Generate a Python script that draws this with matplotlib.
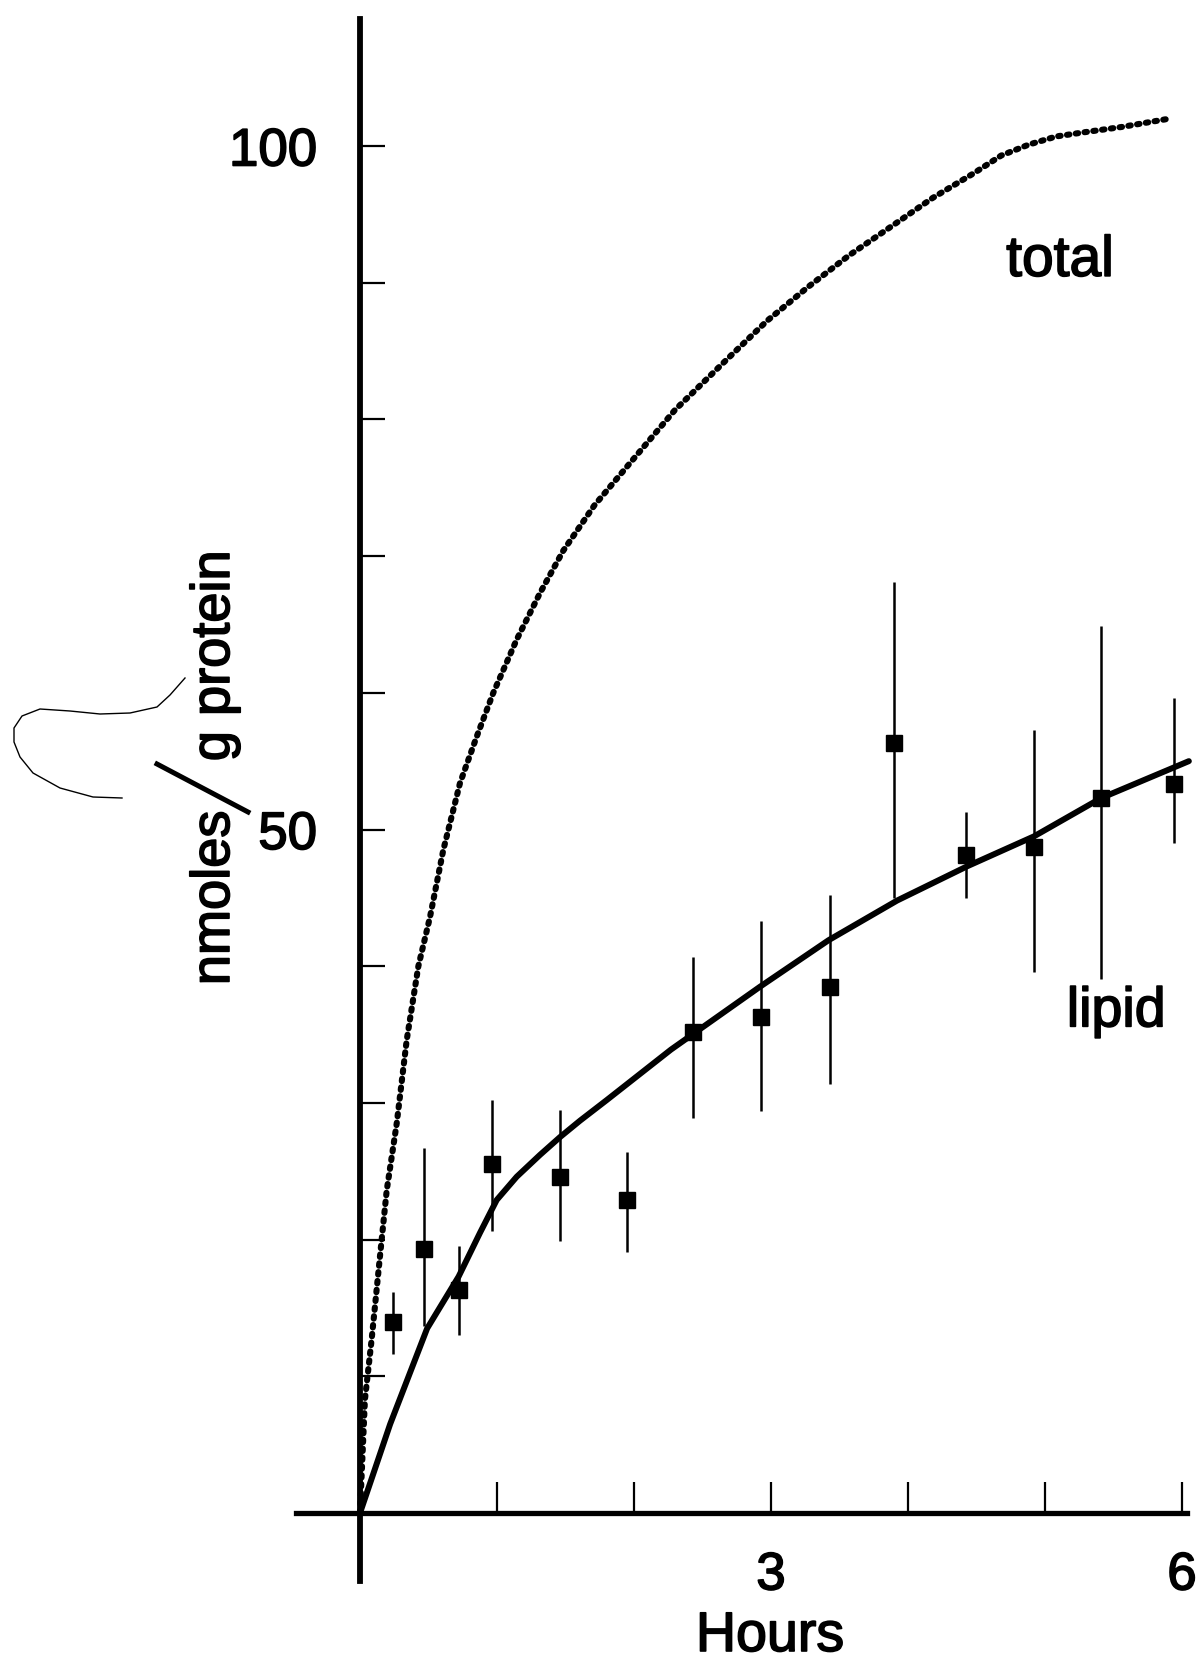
import numpy as np
import matplotlib.pyplot as plt
import matplotlib.patheffects as pe
from matplotlib.lines import Line2D

plt.rcParams['font.family'] = ['Liberation Sans', 'DejaVu Sans']

# lipid fraction: sample times (h), means and error bar ends (nmoles/g protein)
lipid_hours = [0.24, 0.47, 0.72, 0.96, 1.46, 1.95, 2.43, 2.93, 3.43, 3.90, 4.42, 4.92, 5.41, 5.94]
lipid_mean = [14.0, 19.3, 16.3, 25.5, 24.6, 22.9, 35.2, 36.3, 38.5, 56.3, 48.1, 48.7, 52.3, 53.3]
lipid_low = [11.6, 13.7, 13.0, 20.6, 19.9, 19.1, 28.9, 29.4, 31.4, 45.0, 45.0, 39.6, 39.1, 49.0]
lipid_high = [16.2, 26.7, 19.5, 30.2, 29.5, 26.4, 40.7, 43.3, 45.2, 68.1, 51.3, 57.3, 64.9, 59.6]

# smooth curve drawn through the lipid data
fit_hours = [0, 0.22, 0.49, 0.72, 0.876, 0.998, 1.144, 1.314, 1.46, 1.606, 1.80, 2.27,
             2.92, 3.42, 3.92, 4.43, 4.92, 5.41, 6.05]
fit_lipid = [0, 6.5, 13.5, 17.3, 20.5, 22.9, 24.6, 26.2, 27.5, 28.7, 30.2, 33.9,
             38.5, 41.9, 44.8, 47.3, 49.5, 52.3, 55.0]

# total uptake curve
total_hours = [0, 0.036, 0.085, 0.146, 0.195, 0.268, 0.341, 0.426, 0.511, 0.608, 0.730, 0.852,
               0.973, 1.144, 1.314, 1.484, 1.71, 1.945, 2.30, 2.669, 2.97, 3.272, 3.57, 3.876,
               4.18, 4.479, 4.680, 4.881, 5.083, 5.283, 5.565, 5.907]
total = [0, 8.3, 12.7, 18.8, 23.6, 28.5, 34.6, 40.0, 43.6, 48.5, 53.4, 56.8,
         60.0, 63.9, 67.3, 70.4, 73.7, 76.5, 80.7, 84.3, 87.2, 89.7, 92.0, 94.1,
         96.2, 98.0, 99.3, 100.1, 100.7, 101.0, 101.4, 102.0]

y_ticks = [10, 20, 30, 40, 50, 60, 70, 80, 90, 100]
y_ticklabels = ['', '', '', '', '50', '', '', '', '', '100']
x_ticks = [1, 2, 3, 4, 5, 6]
x_ticklabels = ['', '', '3', '', '', '6']

W, H = 1204, 1663
ink = [pe.withStroke(linewidth=1.2, foreground='black')]

fig = plt.figure(figsize=(W / 100, H / 100), dpi=100)
ax = fig.add_axes([360 / W, 150 / H, 822 / W, 1367 / H])
ax.set_xlim(0, 6)
ax.set_ylim(0, 100)
ax.patch.set_visible(False)

lo = np.array(lipid_mean) - np.array(lipid_low)
hi = np.array(lipid_high) - np.array(lipid_mean)

ax.plot(total_hours, total, color='black', lw=4.4, linestyle=(0, (0.4, 1.05)),
        dash_capstyle='round', clip_on=False)
ax.plot(fit_hours, fit_lipid, color='black', lw=4.3, solid_capstyle='round',
        solid_joinstyle='round', clip_on=False)
ax.errorbar(lipid_hours, lipid_mean, yerr=[lo, hi], fmt='s', ms=12, color='black',
            elinewidth=1.8, capsize=0, clip_on=False)

# axes: long plain lines, ticks pointing inward
for side in ['top', 'right']:
    ax.spines[side].set_visible(False)
ax.spines['left'].set_linewidth(4.2)
ax.spines['left'].set_bounds(-5, 109.3)
ax.spines['bottom'].set_linewidth(3.8)
ax.spines['bottom'].set_bounds(-0.47, 6.04)

ax.set_yticks(y_ticks)
ax.set_yticklabels(y_ticklabels)
ax.set_xticks(x_ticks)
ax.set_xticklabels(x_ticklabels)
ax.tick_params(axis='y', direction='in', length=18, width=1.6, pad=31, labelsize=38)
ax.tick_params(axis='x', direction='in', length=22, width=1.6, pad=27, labelsize=38)
for lab in ax.get_xticklabels() + ax.get_yticklabels():
    lab.set_path_effects(ink)

ax.text(5.11, 90.5, 'total', ha='center', va='baseline', fontsize=41, path_effects=ink)
ax.text(5.52, 35.6, 'lipid', ha='center', va='baseline', fontsize=40, path_effects=ink)

fig.text(770 / W, 12 / H, 'Hours', ha='center', va='baseline', fontsize=40, path_effects=ink)

# y label: nmoles / g protein with a long slash
fig.text(229 / W, 1 - 898 / H, 'nmoles', rotation=90, rotation_mode='anchor',
         ha='center', va='baseline', fontsize=39, path_effects=ink)
fig.text(229 / W, 1 - 656 / H, 'g protein', rotation=90, rotation_mode='anchor',
         ha='center', va='baseline', fontsize=39, path_effects=ink)
fig.add_artist(Line2D([157 / W, 248 / W], [1 - 764 / H, 1 - 812 / H],
                      transform=fig.transFigure, color='black', lw=3.6))

# pen loop written beside the label
loop_x = [185, 170, 157, 130, 100, 70, 40, 22, 14, 14, 20, 33, 60, 93, 122]
loop_y = [678, 695, 707, 713, 714, 711, 709, 716, 728, 742, 757, 773, 788, 797, 798]
fig.add_artist(Line2D(np.array(loop_x) / W, 1 - np.array(loop_y) / H,
                      transform=fig.transFigure, color='black', lw=1.0))

fig.savefig('out.png', dpi=100, facecolor='white')
